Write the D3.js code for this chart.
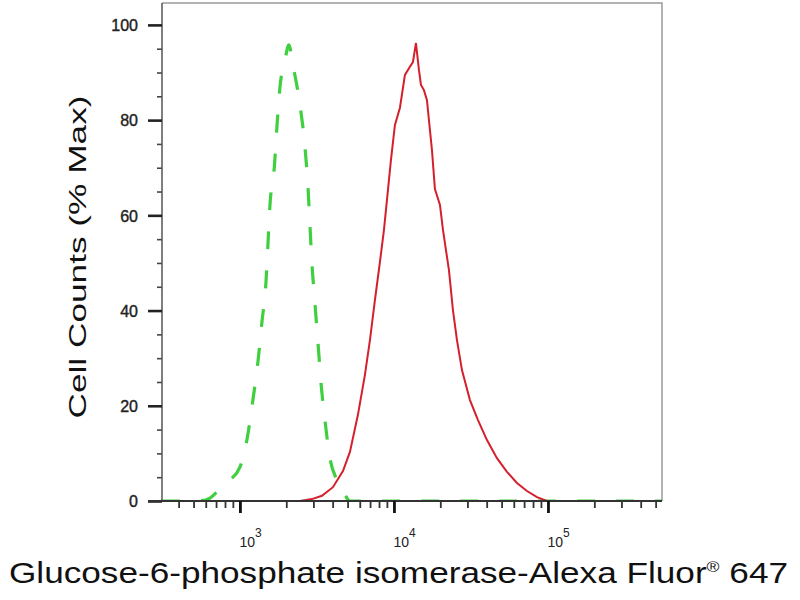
<!DOCTYPE html>
<html><head><meta charset="utf-8">
<script src="https://cdn.jsdelivr.net/npm/d3@7"></script>
<style>body{margin:0;background:#fff}</style>
</head><body><svg id="c" width="800" height="600"></svg>
<script>
// ---- data ----
const isotypeIntensity = [312, 550, 639, 709, 861, 1000, 1110, 1214, 1309, 1390, 1475, 1520, 1566, 1675, 1739, 1818, 1960, 2081, 2209, 2453, 2643, 2764, 2848, 2934, 3069, 3210, 3357, 3564, 3840, 4265, 4807, 5180, 550000];
const isotypePct       = [0, 0, 0.6, 1.9, 4.4, 7.1, 12.8, 21.2, 29.2, 37.6, 45.8, 53.8, 62, 70.4, 78.6, 86.8, 92.6, 95.8, 91.6, 83.2, 74.4, 66.2, 58, 50, 41.6, 33.4, 25, 17, 9, 4.4, 1.3, 0, 0];
const stainedIntensity = [312, 2453, 2934, 3408, 4017, 4665, 5180, 5837, 6481, 6986, 7525, 8111, 8611, 9006, 9561, 10150, 10940, 11787, 12700, 13283, 13898, 14538, 14978, 15660, 16382, 17132, 17652, 18457, 19896, 20805, 21765, 22759, 24160, 25655, 27643, 31157, 35129, 40176, 46652, 54184, 62920, 73061, 84837, 98514, 550000];
const stainedPct       = [0, 0, 0.4, 1.1, 2.9, 6.3, 10.3, 18.1, 26.5, 33.8, 42.2, 50.2, 56.9, 63.2, 71.6, 79.0, 82.6, 89.5, 91.2, 92.2, 96.2, 90.5, 87.4, 86.3, 84.2, 77.9, 73.7, 65.5, 62.2, 57.0, 52.7, 48.5, 40.1, 33.8, 27.5, 21.2, 17.0, 12.8, 9.0, 6.1, 3.8, 2.1, 0.8, 0, 0];
const yTickValues = [0, 20, 40, 60, 80, 100];
const xTickExponents = [3, 4, 5];
const xDomain = [312, 550000];
const yDomain = [0, 104.6];
const xTitle = "Glucose-6-phosphate isomerase-Alexa Fluor";
const xTitleReg = "®";
const xTitleEnd = " 647";
const yTitle = "Cell Counts (% Max)";

// ---- layout ----
const L = 162, R = 662, T = 3, B = 501;
const svg = d3.select("#c");
const x = d3.scaleLog().domain(xDomain).range([L, R]);
const y = d3.scaleLinear().domain(yDomain).range([B, T]);

svg.append("defs").append("clipPath").attr("id", "clip")
  .append("rect").attr("x", L).attr("y", T - 2).attr("width", R - L).attr("height", B - T + 2);

// frame (top & right)
svg.append("path").attr("d", `M${L},${T}H${R}V${B}`).attr("fill", "none")
  .attr("stroke", "#9a9a9a").attr("stroke-width", 1.5);

// curves
const line = d3.line().x(d => x(d[0])).y(d => y(d[1])).curve(d3.curveMonotoneX);
const g = svg.append("g").attr("clip-path", "url(#clip)");
g.append("path").datum(d3.zip(isotypeIntensity, isotypePct)).attr("d", line)
  .attr("fill", "none").attr("stroke", "#3fcf3f").attr("stroke-width", 3.2)
  .attr("stroke-dasharray", "18,21");
const lineR = d3.line().x(d => x(d[0])).y(d => y(d[1])).curve(d3.curveLinear);
g.append("path").datum(d3.zip(stainedIntensity, stainedPct)).attr("d", lineR)
  .attr("fill", "none").attr("stroke", "#d4202c").attr("stroke-width", 2);

// y axis
const yMinor = d3.range(0, 105, 5).filter(v => !yTickValues.includes(v));
const yAxisMinor = svg.append("g").attr("transform", `translate(${L},0)`)
  .call(d3.axisLeft(y).tickValues(yMinor).tickSize(5).tickFormat(""));
yAxisMinor.select(".domain").remove();
yAxisMinor.selectAll("line").attr("stroke", "#444").attr("stroke-width", 1.6);
const yAxis = svg.append("g").attr("transform", `translate(${L},0)`)
  .call(d3.axisLeft(y).tickValues(yTickValues).tickSize(14).tickPadding(10));
yAxis.select(".domain").attr("d", `M0,${T}V${B}`).attr("stroke", "#555").attr("stroke-width", 1.5);
yAxis.selectAll("line").attr("stroke", "#222").attr("stroke-width", 2.6);
yAxis.selectAll("text").attr("font-family", "Liberation Sans, Arial, sans-serif")
  .attr("font-size", 16).attr("fill", "#222").attr("stroke", "#222").attr("stroke-width", 0.4)
  .attr("dy", "0.36em");

// x axis
const xMinor = [];
for (let e = 2; e <= 5; e++) for (let k = 2; k <= 9; k++) {
  const v = k * Math.pow(10, e);
  if (v > xDomain[0] && v < xDomain[1]) xMinor.push(v);
}
const xMajor = xTickExponents.map(e => Math.pow(10, e));
const xAxisMinor = svg.append("g").attr("transform", `translate(0,${B})`)
  .call(d3.axisBottom(x).tickValues(xMinor).tickSize(7).tickFormat(""));
xAxisMinor.select(".domain").remove();
xAxisMinor.selectAll("line").attr("stroke", "#333").attr("stroke-width", 1.8);
const xAxis = svg.append("g").attr("transform", `translate(0,${B})`)
  .call(d3.axisBottom(x).tickValues(xMajor).tickSize(12).tickFormat(""));
xAxis.select(".domain").attr("d", `M${L - 14},0H${R}`).attr("stroke", "#333").attr("stroke-width", 2);
xAxis.selectAll("line").attr("stroke", "#111").attr("stroke-width", 2.8);
xAxis.selectAll(".tick").each(function (d, i) {
  const t = d3.select(this).append("text").attr("x", -1).attr("y", 46)
    .attr("text-anchor", "start").attr("fill", "#222")
    .attr("font-family", "Liberation Sans, Arial, sans-serif").attr("font-size", 14);
  t.append("tspan").text("10");
  t.append("tspan").attr("dy", -10).attr("font-size", 12).text(String(xTickExponents[i]));
});

// titles
const xt = svg.append("text").attr("x", 9).attr("y", 583)
  .attr("font-family", "Liberation Sans, Arial, sans-serif").attr("font-size", 30).attr("fill", "#111")
  .attr("textLength", 779).attr("lengthAdjust", "spacingAndGlyphs");
xt.append("tspan").text(xTitle);
xt.append("tspan").attr("dy", -11).attr("font-size", 15).text(xTitleReg);
xt.append("tspan").attr("dy", 11).text(xTitleEnd);

svg.append("text").attr("transform", "translate(86,257) rotate(-90)")
  .attr("text-anchor", "middle")
  .attr("font-family", "Liberation Sans, Arial, sans-serif").attr("font-size", 24).attr("fill", "#111")
  .attr("textLength", 323).attr("lengthAdjust", "spacingAndGlyphs")
  .text(yTitle);
</script>
</body></html>
